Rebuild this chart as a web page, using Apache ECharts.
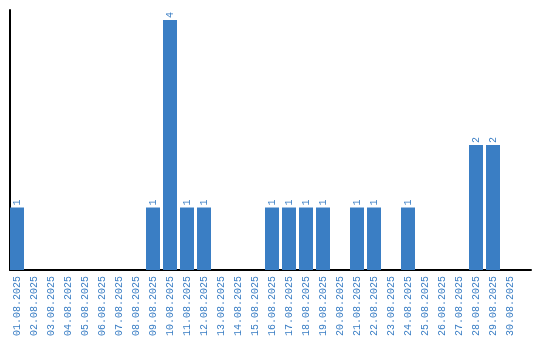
<!DOCTYPE html>
<html>
<head>
<meta charset="utf-8">
<script src="https://cdn.jsdelivr.net/npm/echarts@6/dist/echarts.min.js"></script>
<style>html,body{margin:0;padding:0;background:#fff}#c{width:540px;height:340px}</style>
</head>
<body>
<div id="c"></div>
<script>
const categories = ["01.08.2025","02.08.2025","03.08.2025","04.08.2025","05.08.2025","06.08.2025","07.08.2025","08.08.2025","09.08.2025","10.08.2025","11.08.2025","12.08.2025","13.08.2025","14.08.2025","15.08.2025","16.08.2025","17.08.2025","18.08.2025","19.08.2025","20.08.2025","21.08.2025","22.08.2025","23.08.2025","24.08.2025","25.08.2025","26.08.2025","27.08.2025","28.08.2025","29.08.2025","30.08.2025"];
const values = [1,0,0,0,0,0,0,0,1,4,1,1,0,0,0,1,1,1,1,0,1,1,0,1,0,0,0,2,2,0];

const blue = '#3a7ec4';
const positions = categories.map((c, i) => i + 1);
const chart = echarts.init(document.getElementById('c'));
chart.setOption({
  animation: false,
  grid: { left: 10, right: 9, top: 10, bottom: 70 },
  xAxis: {
    type: 'value',
    min: 10 / 17,
    max: 531 / 17,
    splitLine: { show: false },
    axisLine: { show: true, lineStyle: { color: '#000', width: 2 } },
    axisTick: { show: false },
    axisLabel: {
      customValues: positions,
      rotate: 90,
      color: blue,
      fontFamily: 'Liberation Mono',
      fontSize: 10,
      margin: 6,
      formatter: v => categories[Math.round(v) - 1] || ''
    }
  },
  yAxis: {
    type: 'value',
    min: 0,
    max: 4.16,
    splitLine: { show: false },
    axisLine: { show: true, lineStyle: { color: '#000', width: 2 } },
    axisTick: { show: false },
    axisLabel: { show: false }
  },
  series: [{
    type: 'bar',
    barWidth: 14,
    itemStyle: { color: blue },
    data: values.map((v, i) => [positions[i], v]),
    label: {
      show: true,
      position: 'top',
      rotate: 90,
      align: 'left',
      verticalAlign: 'middle',
      distance: 2,
      color: blue,
      fontFamily: 'Liberation Mono',
      fontSize: 10,
      formatter: p => p.value[1] ? String(p.value[1]) : ''
    }
  }]
});
</script>
</body>
</html>
